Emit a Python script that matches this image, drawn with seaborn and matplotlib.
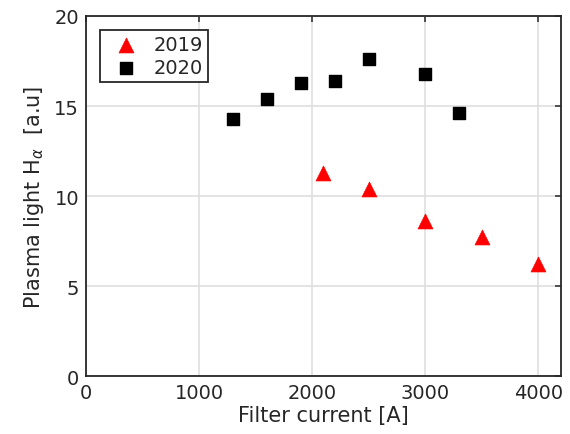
import numpy as np
import pandas as pd
import matplotlib
matplotlib.use("Agg")
import matplotlib.pyplot as plt
import seaborn as sns

# 데이터
current_2019 = [2100, 2500, 3000, 3500, 4000]
light_2019 = [11.3, 10.4, 8.6, 7.7, 6.2]
current_2020 = [1300, 1600, 1900, 2200, 2500, 3000, 3300]
light_2020 = [14.3, 15.4, 16.3, 16.4, 17.6, 16.8, 14.6]

x_ticks = [0, 1000, 2000, 3000, 4000]
y_ticks = [0, 5, 10, 15, 20]

sns.set_style("whitegrid")
plt.rcParams['font.family'] = ['DejaVu Sans']
plt.rcParams['mathtext.fontset'] = 'dejavusans'

text_col = '#262626'

df19 = pd.DataFrame({'current': current_2019, 'light': light_2019})
df20 = pd.DataFrame({'current': current_2020, 'light': light_2020})

fig = plt.figure(figsize=(5.7, 4.35), dpi=100)
ax = fig.add_axes([0.151, 0.133, 0.833, 0.828])

sns.scatterplot(data=df19, x='current', y='light', marker='^', s=115,
                color='#ff0000', edgecolor='#ff0000', linewidth=0.5,
                label='2019', ax=ax, zorder=3)
sns.scatterplot(data=df20, x='current', y='light', marker='s', s=70,
                color='black', edgecolor='black', linewidth=1.0,
                label='2020', ax=ax, zorder=3)

ax.set_xlim(0, 4200)
ax.set_ylim(0, 20)
ax.set_xticks(x_ticks)
ax.set_yticks(y_ticks)
ax.grid(True, color='#dddddd', linewidth=1.1)
ax.set_axisbelow(True)

for sp in ax.spines.values():
    sp.set_color(text_col)
    sp.set_linewidth(1.3)
ax.tick_params(direction='in', length=4, width=1.1, colors=text_col,
               labelsize=14, top=True, right=True, pad=5)

ax.set_xlabel('Filter current [A]', fontsize=15, color=text_col, labelpad=2)
ax.set_ylabel(r'Plasma light H$_{\alpha}$  [a.u]', fontsize=15,
              color=text_col, labelpad=6)

leg = ax.legend(loc='upper left', bbox_to_anchor=(0.0, 1.0), fontsize=14,
                frameon=True, fancybox=False, edgecolor=text_col,
                framealpha=1, borderpad=0.25, handletextpad=0.3,
                handlelength=2.2, labelspacing=0.2, borderaxespad=0.72)
leg.get_frame().set_linewidth(1.3)
for t in leg.get_texts():
    t.set_color(text_col)

fig.savefig('out.png', dpi=100)
